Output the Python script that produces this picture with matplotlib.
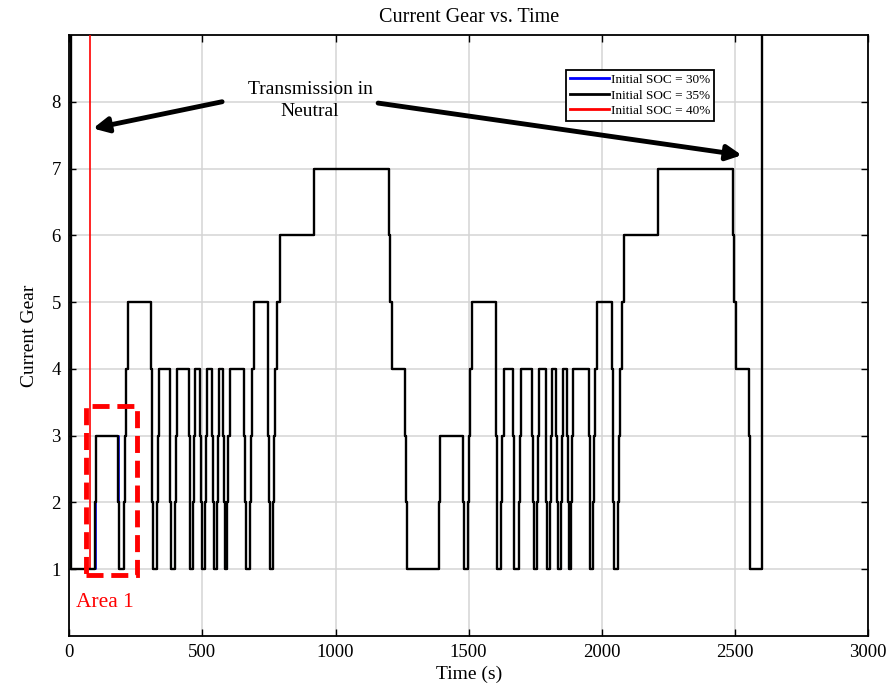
import matplotlib
matplotlib.use("Agg")
import matplotlib.pyplot as plt
from matplotlib.patches import Rectangle

plt.rcParams['font.family'] = ['Liberation Serif', 'DejaVu Serif']

# ---- data (time in s, gear; 10 = transmission in neutral, off-chart) ----
head_time_30 = [0, 5, 99, 102, 185, 188, 205, 209, 213, 221]
head_gear_30 = [10, 1, 2, 3, 2, 1, 2, 3, 4, 5]
head_time_35 = [0, 8, 98, 101, 184, 187, 205, 209, 213, 221]
head_gear_35 = [10, 1, 2, 3, 2, 1, 2, 3, 4, 5]
head_time_40 = [0, 78, 98, 101, 184, 187, 205, 209, 213, 221]
head_gear_40 = [10, 1, 2, 3, 2, 1, 2, 3, 4, 5]

common_time = [307, 309, 311, 314, 330, 334, 338, 377, 380, 383, 398, 402, 406,
               449, 452, 455, 466, 470, 474, 492, 495, 498, 508, 512, 516,
               536, 539, 542, 553, 557, 561, 578, 581, 584, 594, 598, 602,
               658, 661, 664, 678, 682, 686, 693, 746, 748, 750, 753,
               766, 770, 774, 782, 790, 919, 1200, 1206, 1212,
               1261, 1264, 1267, 1388, 1392, 1479, 1482,
               1497, 1501, 1505, 1512, 1601, 1603, 1605, 1608,
               1623, 1627, 1631, 1666, 1669, 1672, 1688, 1692, 1696,
               1738, 1741, 1744, 1757, 1761, 1765, 1789, 1792, 1795,
               1806, 1810, 1813, 1828, 1831, 1834, 1846, 1850, 1853,
               1871, 1874, 1877, 1885, 1889, 1892, 1951, 1954, 1957,
               1968, 1972, 1976, 1983, 2040, 2042, 2044, 2047,
               2060, 2064, 2068, 2075, 2083, 2210, 2492, 2498, 2504,
               2553, 2555, 2558, 2600, 3000]
common_gear = [4, 3, 2, 1, 2, 3, 4, 3, 2, 1, 2, 3, 4,
               3, 2, 1, 2, 3, 4, 3, 2, 1, 2, 3, 4,
               3, 2, 1, 2, 3, 4, 3, 2, 1, 2, 3, 4,
               3, 2, 1, 2, 3, 4, 5, 4, 3, 2, 1,
               2, 3, 4, 5, 6, 7, 6, 5, 4,
               3, 2, 1, 2, 3, 2, 1,
               2, 3, 4, 5, 4, 3, 2, 1,
               2, 3, 4, 3, 2, 1, 2, 3, 4,
               3, 2, 1, 2, 3, 4, 3, 2, 1,
               2, 3, 4, 3, 2, 1, 2, 3, 4,
               3, 2, 1, 2, 3, 4, 3, 2, 1,
               2, 3, 4, 5, 4, 3, 2, 1,
               2, 3, 4, 5, 6, 7, 6, 5, 4,
               3, 2, 1, 10, 10]

series_labels = ['Initial SOC = 30%', 'Initial SOC = 35%', 'Initial SOC = 40%']
series_colors = ['#0000ff', '#000000', '#ff0000']

x_ticks = [0, 500, 1000, 1500, 2000, 2500, 3000]
y_ticks = [1, 2, 3, 4, 5, 6, 7, 8]

fig = plt.figure(figsize=(8.96, 6.91), dpi=100)
ax = fig.add_axes([0.0773, 0.0796, 0.8915, 0.8698])

t30 = head_time_30 + common_time
g30 = head_gear_30 + common_gear
t35 = head_time_35 + common_time
g35 = head_gear_35 + common_gear
t40 = head_time_40 + common_time
g40 = head_gear_40 + common_gear

l30, = ax.plot(t30, g30, drawstyle='steps-post', color=series_colors[0], lw=1.2, zorder=3)
l40, = ax.plot(t40, g40, drawstyle='steps-post', color=series_colors[2], lw=1.2, zorder=4)
l35, = ax.plot(t35, g35, drawstyle='steps-post', color=series_colors[1], lw=1.7, zorder=5)

ax.set_xlim(0, 3000)
ax.set_ylim(0, 9)
ax.set_xticks(x_ticks)
ax.set_yticks(y_ticks)
ax.tick_params(direction='in', length=5, width=1, top=True, right=True,
               labelsize=13.5, pad=6)
ax.grid(True, color='#d4d4d4', lw=1.1)
ax.set_axisbelow(True)
for s in ax.spines.values():
    s.set_linewidth(1.3)

ax.set_title('Current Gear vs. Time', fontsize=14.5, pad=9)
ax.set_xlabel('Time (s)', fontsize=14, labelpad=3)
ax.set_ylabel('Current Gear', fontsize=14, labelpad=10)

leg = ax.legend([l30, l35, l40], series_labels, loc='upper right',
                bbox_to_anchor=(0.807, 0.942), fontsize=9.5, frameon=True,
                fancybox=False, framealpha=1, edgecolor='black',
                handlelength=3.0, handletextpad=0.1, borderpad=0.3,
                labelspacing=0.25, borderaxespad=0)
leg.get_frame().set_linewidth(1.3)
for h in leg.legend_handles:
    h.set_linewidth(2)

# Area 1 box
rect = Rectangle((62, 0.92), 193, 2.52, fill=False, edgecolor='red', lw=3.5,
                 linestyle=(0, (3.5, 1.6)), zorder=6)
ax.add_patch(rect)
ax.text(134, 0.5, 'Area 1', color='red', fontsize=15.5, ha='center', va='center', zorder=7)

# annotation
ax.text(904, 8.02, 'Transmission in\nNeutral', fontsize=14, ha='center', va='center',
        linespacing=1.4, zorder=7)
arrow_kw = dict(arrowstyle='-|>,head_length=0.9,head_width=0.45', color='black',
                lw=3.5, shrinkA=0, shrinkB=0)
ax.annotate('', xy=(89, 7.6), xytext=(574, 8.0), arrowprops=arrow_kw, zorder=7)
ax.annotate('', xy=(2526, 7.2), xytext=(1160, 7.98), arrowprops=arrow_kw, zorder=7)

fig.savefig('out.png', dpi=100)
